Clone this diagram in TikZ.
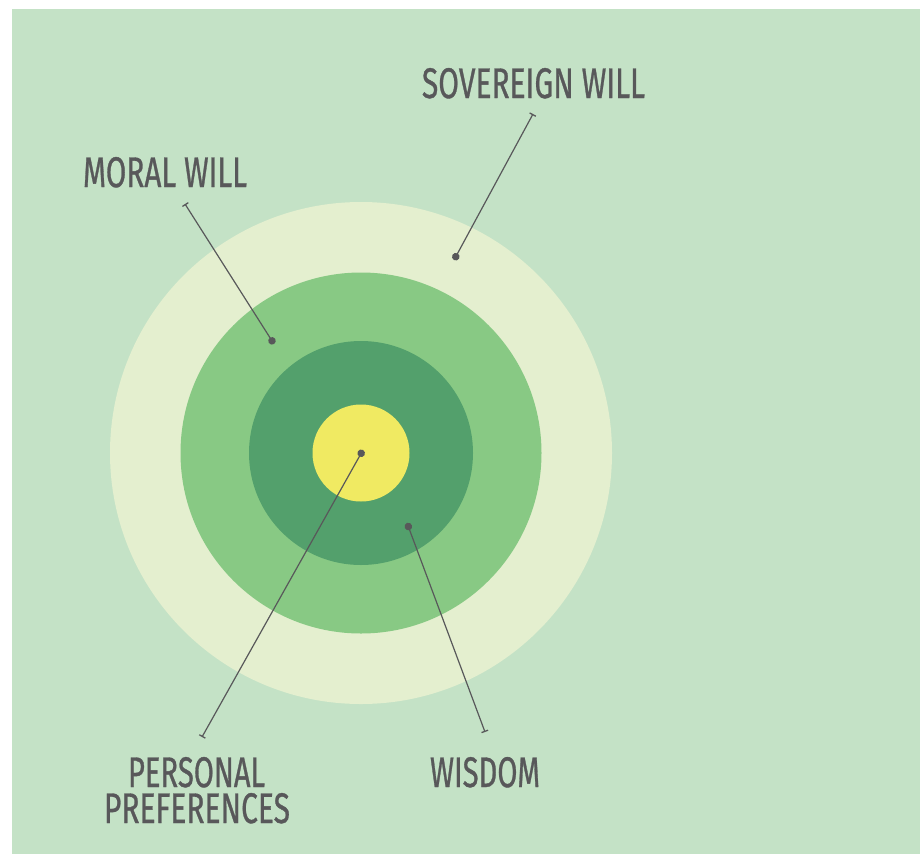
\documentclass[tikz,border=0pt]{standalone}
\usepackage{fontspec}
\setmainfont{Fira Sans}
\newfontfamily\lblfont{Fira Sans}[UprightFeatures={FakeBold=0.9}]
\usetikzlibrary{arrows.meta}
\definecolor{bgc}{HTML}{C4E2C6}
\definecolor{ringa}{HTML}{E4EFCF}
\definecolor{ringb}{HTML}{88C984}
\definecolor{ringc}{HTML}{53A06C}
\definecolor{core}{HTML}{F0EA62}
\definecolor{ink}{HTML}{58585A}
\begin{document}
\begin{tikzpicture}[x=1pt,y=-1pt,
  lbl/.style={inner sep=0pt,anchor=base,text=ink,font=\lblfont},
  leader/.style={draw=ink,line width=1.2pt,{Bar[width=7pt,line width=1.3pt]}-{Circle[length=7.5pt]}}]
\useasboundingbox (0,0) rectangle (923,854);
\fill[white] (0,0) rectangle (923,854);
\fill[bgc] (12,9) rectangle (920,854);
\fill[ringa] (361,453) circle[radius=251];
\fill[ringb] (361,453) circle[radius=180.5];
\fill[ringc] (361,453) circle[radius=112];
\fill[core] (361,453) circle[radius=48.5];
\node[lbl] (sov) at (533.5,98) {\resizebox{223pt}{30pt}{SOVEREIGN WILL}};
\node[lbl] (mor) at (165,187) {\resizebox{164pt}{30pt}{MORAL WILL}};
\node[lbl] (per1) at (196.5,787) {\resizebox{137pt}{30pt}{PERSONAL}};
\node[lbl] (per2) at (197,823) {\resizebox{186pt}{30pt}{PREFERENCES}};
\node[lbl] (wis) at (485,787) {\resizebox{110pt}{30pt}{WISDOM}};
\coordinate (sovT) at (533,114);
\coordinate (sovD) at (454,260);
\coordinate (morT) at (185,204);
\coordinate (morD) at (274,344);
\coordinate (perT) at (202,737);
\coordinate (perD) at (363,450);
\coordinate (wisT) at (485,732);
\coordinate (wisD) at (407,523);
\draw[leader] (sovT) -- (sovD);
\draw[leader] (morT) -- (morD);
\draw[leader] (perT) -- (perD);
\draw[leader] (wisT) -- (wisD);
\end{tikzpicture}
\end{document}
